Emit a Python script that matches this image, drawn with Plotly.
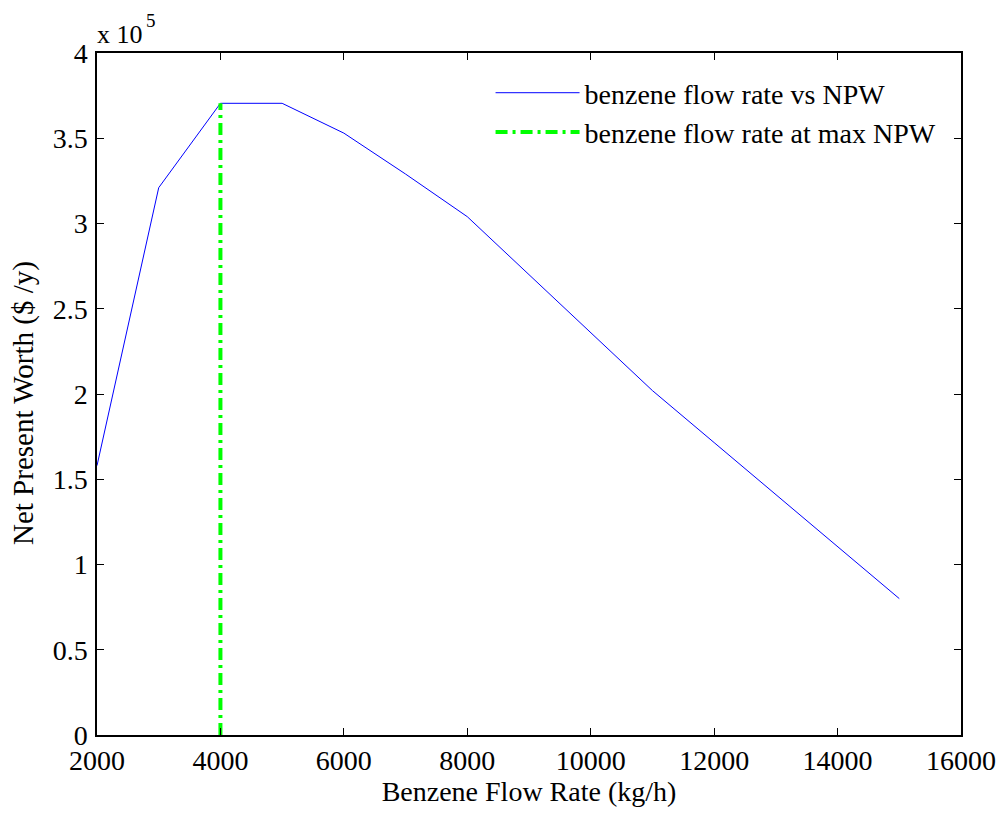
import plotly.graph_objects as go

flow_rate = [2000, 3000, 4000, 5000, 6000, 7000, 8000, 9000, 10000, 11000, 12000, 13000, 14000, 15000]
npw = [158000, 321000, 370500, 370500, 353000, 329000, 304000, 270000, 236000, 202000, 171500, 141000, 110500, 80000]

max_flow = [4000, 4000]
max_line_y = [0, 370500]

x_ticks = [2000, 4000, 6000, 8000, 10000, 12000, 14000, 16000]
x_tick_text = ["2000", "4000", "6000", "8000", "10000", "12000", "14000", "16000"]
y_ticks = [0, 50000, 100000, 150000, 200000, 250000, 300000, 350000, 400000]
y_tick_text = ["0", "0.5", "1", "1.5", "2", "2.5", "3", "3.5", "4"]

font_family = "Liberation Serif, Times New Roman, serif"

fig = go.Figure()
fig.add_trace(go.Scatter(x=flow_rate, y=npw, mode="lines",
                         line=dict(color="#0000FF", width=1),
                         name="benzene flow rate vs NPW"))
fig.add_trace(go.Scatter(x=max_flow, y=max_line_y, mode="lines",
                         line=dict(color="#00FF00", width=4, dash="12px,5px,3px,5px"),
                         name="benzene flow rate at max NPW"))

axis_common = dict(showgrid=False, zeroline=False, showline=True, linecolor="black",
                   linewidth=1.5, mirror="allticks", ticks="inside", ticklen=7,
                   tickcolor="black", tickfont=dict(family=font_family, size=28, color="black"))

fig.update_xaxes(range=[2000, 16000], tickvals=x_ticks, ticktext=x_tick_text, **axis_common,
                 title=dict(text="Benzene Flow Rate (kg/h)",
                            font=dict(family=font_family, size=28, color="black"), standoff=6))
fig.update_yaxes(range=[0, 400000], tickvals=y_ticks, ticktext=y_tick_text, **axis_common,
                 ticklabelstandoff=2)

# y-axis title placed as annotation for precise positioning
fig.add_annotation(x=0, y=0.5, xref="paper", yref="paper", xanchor="center", yanchor="middle",
                   xshift=-74, yshift=-9, textangle=-90,
                   text="Net Present Worth ($ /y)", showarrow=False,
                   font=dict(family=font_family, size=29, color="black"))

fig.add_annotation(x=0, y=1, xref="paper", yref="paper", xanchor="left", yanchor="bottom",
                   xshift=-2, yshift=2,
                   text="x 10", showarrow=False,
                   font=dict(family=font_family, size=26, color="black"))
fig.add_annotation(x=0, y=1, xref="paper", yref="paper", xanchor="left", yanchor="bottom",
                   xshift=47, yshift=20,
                   text="5", showarrow=False,
                   font=dict(family=font_family, size=19, color="black"))

fig.update_layout(
    width=1000, height=806,
    margin=dict(l=89, r=41, t=45, b=75),
    paper_bgcolor="white", plot_bgcolor="white",
    showlegend=True,
    legend=dict(x=0.4555, y=0.978, xanchor="left", yanchor="top",
                bgcolor="rgba(0,0,0,0)", borderwidth=0, itemwidth=84,
                font=dict(family=font_family, size=28, color="black"),
                tracegroupgap=0),
)

fig.write_html("out.html")
